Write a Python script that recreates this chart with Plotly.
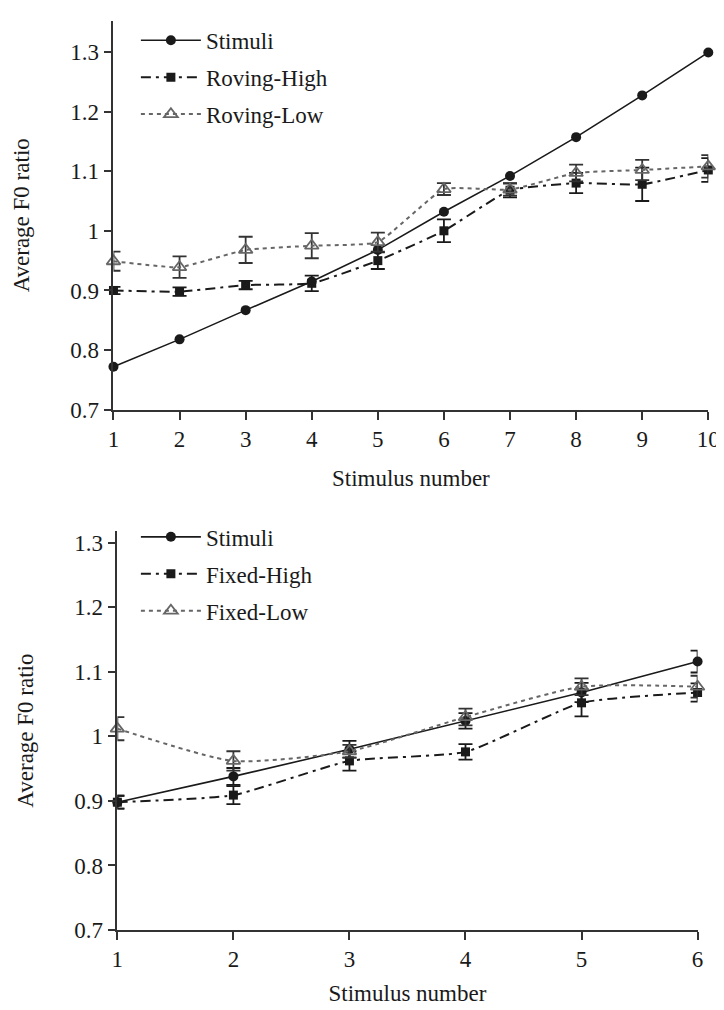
import plotly.graph_objects as go

# ---------------- data ----------------
roving_x = [1, 2, 3, 4, 5, 6, 7, 8, 9, 10]
roving_stimuli = [0.772, 0.818, 0.867, 0.915, 0.968, 1.032, 1.092, 1.157, 1.227, 1.299]
roving_high = [0.900, 0.898, 0.909, 0.912, 0.950, 1.000, 1.068, 1.080, 1.078, 1.102]
roving_high_err = [0.006, 0.007, 0.007, 0.013, 0.014, 0.019, 0.012, 0.017, 0.028, 0.020]
roving_low = [0.949, 0.939, 0.968, 0.975, 0.981, 1.070, 1.069, 1.097, 1.102, 1.108]
roving_low_err = [0.016, 0.018, 0.022, 0.021, 0.016, 0.010, 0.010, 0.014, 0.017, 0.019]

fixed_x = [1, 2, 3, 4, 5, 6]
fixed_stimuli = [0.898, 0.938, 0.980, 1.024, 1.068, 1.116]
fixed_stimuli_err = [0.010, 0.013, 0.013, 0.012, 0.015, 0.017]
fixed_high = [0.898, 0.909, 0.962, 0.976, 1.052, 1.068]
fixed_high_err = [0.010, 0.014, 0.015, 0.012, 0.021, 0.014]
fixed_low = [1.012, 0.962, 0.977, 1.030, 1.077, 1.077]
fixed_low_err = [0.018, 0.015, 0.010, 0.013, 0.013, 0.017]

y_ticks = [0.7, 0.8, 0.9, 1.0, 1.1, 1.2, 1.3]
y_ticktext = ["0.7", "0.8", "0.9", "1", "1.1", "1.2", "1.3"]

x_title = "Stimulus number"
y_title = "Average F0 ratio"

# ---------------- styling ----------------
FONT = "Liberation Serif, Times New Roman, serif"
FS = 23
W, H = 724, 1010
BLACK = "#1a1a1a"
GRAY = "#666666"


def px_x(p):
    return p / W


def px_y(p):
    return 1 - p / H


def err(arr, color):
    return dict(type="data", array=arr, visible=True, color=color,
                thickness=1.8, width=7)


fig = go.Figure()

# ---- top panel (roving) ----
fig.add_trace(go.Scatter(
    x=roving_x, y=roving_stimuli, name="Stimuli", mode="lines+markers",
    line=dict(color=BLACK, width=1.6),
    marker=dict(symbol="circle", size=10, color=BLACK),
    xaxis="x", yaxis="y", legend="legend", legendgroup="a1", cliponaxis=False))
fig.add_trace(go.Scatter(
    x=roving_x, y=roving_high, name="Roving-High", mode="lines+markers",
    line=dict(color=BLACK, width=2, dash="10px,5px,3px,5px", shape="spline", smoothing=0.4),
    marker=dict(symbol="square", size=9, color=BLACK),
    error_y=err(roving_high_err, BLACK),
    xaxis="x", yaxis="y", legend="legend", legendgroup="a2", cliponaxis=False))
fig.add_trace(go.Scatter(
    x=roving_x, y=roving_low, name="Roving-Low", mode="lines+markers",
    line=dict(color=GRAY, width=2, dash="4px,4px", shape="spline", smoothing=0.4),
    marker=dict(symbol="triangle-up-open", size=12, color=GRAY, line=dict(width=1.8)),
    error_y=err(roving_low_err, "#333333"),
    xaxis="x", yaxis="y", legend="legend", legendgroup="a3", cliponaxis=False))

# ---- bottom panel (fixed) ----
fig.add_trace(go.Scatter(
    x=fixed_x, y=fixed_stimuli, name="Stimuli", mode="lines+markers",
    line=dict(color=BLACK, width=1.6),
    marker=dict(symbol="circle", size=10, color=BLACK),
    error_y=err(fixed_stimuli_err, BLACK),
    xaxis="x2", yaxis="y2", legend="legend2", legendgroup="b1", cliponaxis=False))
fig.add_trace(go.Scatter(
    x=fixed_x, y=fixed_high, name="Fixed-High", mode="lines+markers",
    line=dict(color=BLACK, width=2, dash="10px,5px,3px,5px", shape="spline", smoothing=0.5),
    marker=dict(symbol="square", size=9, color=BLACK),
    error_y=err(fixed_high_err, BLACK),
    xaxis="x2", yaxis="y2", legend="legend2", legendgroup="b2", cliponaxis=False))
fig.add_trace(go.Scatter(
    x=fixed_x, y=fixed_low, name="Fixed-Low", mode="lines+markers",
    line=dict(color=GRAY, width=2, dash="4px,4px", shape="spline", smoothing=0.6),
    marker=dict(symbol="triangle-up-open", size=12, color=GRAY, line=dict(width=1.8)),
    error_y=err(fixed_low_err, "#333333"),
    xaxis="x2", yaxis="y2", legend="legend2", legendgroup="b3", cliponaxis=False))

axis_common = dict(
    showgrid=False, zeroline=False, showline=True, linecolor="#333333", linewidth=1.5,
    ticks="outside", ticklen=8, tickwidth=1.5, tickcolor="#333333",
    tickfont=dict(family=FONT, size=FS, color=BLACK), mirror=False,
)

legend_common = dict(
    font=dict(family=FONT, size=FS, color=BLACK), bgcolor="rgba(0,0,0,0)",
    tracegroupgap=4, itemwidth=60, xanchor="left", yanchor="top",
)

fig.update_layout(
    width=W, height=H, autosize=False,
    margin=dict(l=0, r=0, t=0, b=0),
    paper_bgcolor="white", plot_bgcolor="white",
    font=dict(family=FONT, size=FS, color=BLACK),
    xaxis=dict(axis_common, domain=[px_x(102), px_x(712)], range=[1, 10],
               tickvals=roving_x, anchor="y",
               title=dict(text=x_title, font=dict(family=FONT, size=FS), standoff=19)),
    yaxis=dict(axis_common, domain=[px_y(407), px_y(13)], range=[0.7, 1.352],
               tickvals=y_ticks, ticktext=y_ticktext, anchor="x",
               title=dict(text=y_title, font=dict(family=FONT, size=FS), standoff=34)),
    xaxis2=dict(axis_common, domain=[px_x(106), px_x(701)], range=[1, 6],
                tickvals=fixed_x, anchor="y2",
                title=dict(text=x_title, font=dict(family=FONT, size=FS), standoff=14)),
    yaxis2=dict(axis_common, domain=[px_y(934), px_y(530)], range=[0.7, 1.318],
                tickvals=y_ticks, ticktext=y_ticktext, anchor="x2",
                title=dict(text=y_title, font=dict(family=FONT, size=FS), standoff=34)),
    legend=dict(legend_common, x=px_x(125), y=px_y(11)),
    legend2=dict(legend_common, x=px_x(125), y=px_y(514)),
)

fig.write_html("out.html")
